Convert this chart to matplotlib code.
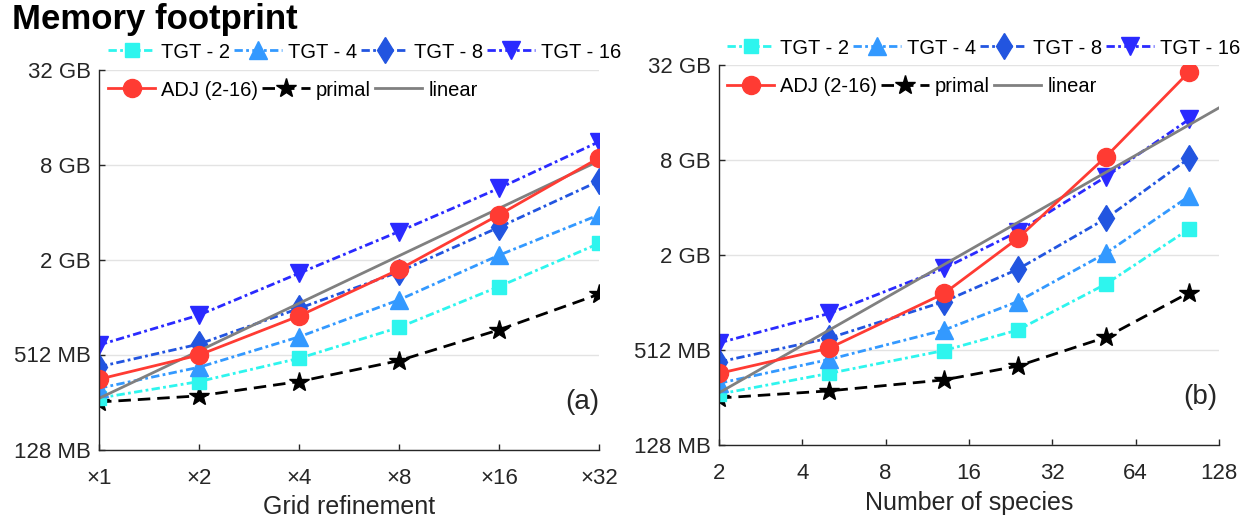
import matplotlib
matplotlib.use("Agg")
import matplotlib.pyplot as plt
from matplotlib.lines import Line2D

plt.rcParams['font.family'] = ['Liberation Sans', 'DejaVu Sans']

# ---- data (memory in MB) ----
refine = [1, 2, 4, 8, 16, 32]
refine_labels = ["×1", "×2", "×4", "×8", "×16", "×32"]
species = [2, 5, 13, 24, 50, 100]
species_ticks = [2, 4, 8, 16, 32, 64, 128]

# (a) grid refinement
a_tgt2 = [271, 345, 484, 760, 1380, 2590]
a_tgt4 = [313, 425, 662, 1136, 2180, 3930]
a_tgt8 = [428, 596, 1003, 1710, 3280, 6430]
a_tgt16 = [588, 910, 1675, 3080, 5790, 11420]
a_adj = [357, 508, 898, 1770, 3930, 9020]
a_primal = [256, 280, 345, 468, 734, 1235]
a_linear = [270, 540, 1080, 2160, 4320, 8640]

# (b) number of species
b_tgt2 = [269, 364, 508, 685, 1342, 2998]
b_tgt4 = [315, 446, 685, 1038, 2105, 4840]
b_tgt8 = [430, 609, 1038, 1663, 3490, 8420]
b_tgt16 = [568, 873, 1686, 2876, 6425, 14860]
b_adj = [364, 526, 1168, 2610, 8600, 29720]
b_primal = [254, 282, 331, 405, 617, 1184]
b_linear_x = [2, 128]
b_linear = [274, 17540]

mem_ticks = [128, 512, 2048, 8192, 32768]
mem_labels = ["128 MB", "512 MB", "2 GB", "8 GB", "32 GB"]

# ---- styles ----
dashdot = (0, (3, 1.2, 1, 1.2))
dashed = (0, (4.5, 2.5))
styles = {
    "TGT - 2": dict(color="#2ef5ee", ls=dashdot, marker="s", ms=10),
    "TGT - 4": dict(color="#3399ff", ls=dashdot, marker="^", ms=13),
    "TGT - 8": dict(color="#2255e0", ls=dashdot, marker="d", ms=13),
    "TGT - 16": dict(color="#2a2aff", ls=dashdot, marker="v", ms=13),
    "ADJ (2-16)": dict(color="#ff3b33", ls="-", marker="o", ms=13),
    "primal": dict(color="black", ls=dashed, marker="*", ms=15),
    "linear": dict(color="#808080", ls="-", marker=None, ms=0),
}
lw = 2
W, H = 1244, 520
tc = "#262626"

fig = plt.figure(figsize=(W / 100, H / 100), dpi=100)
ax1 = fig.add_axes([99 / W, 1 - 449.5 / H, 500 / W, 380 / H])
ax2 = fig.add_axes([719 / W, 1 - 445 / H, 500 / W, 380 / H])


def draw(ax, x, tgt2, tgt4, tgt8, tgt16, adj, primal, lin_x, lin):
    series = [("primal", x, primal), ("TGT - 2", x, tgt2), ("TGT - 4", x, tgt4),
              ("TGT - 8", x, tgt8), ("TGT - 16", x, tgt16), ("linear", lin_x, lin),
              ("ADJ (2-16)", x, adj)]
    for name, xs, ys in series:
        s = styles[name]
        ax.plot(xs, ys, color=s["color"], ls=s["ls"], lw=lw, marker=s["marker"],
                ms=s["ms"], mec=s["color"], mfc=s["color"], label=name)
    ax.set_xscale("log", base=2)
    ax.set_yscale("log", base=2)
    ax.set_ylim(128, 32768)
    ax.set_yticks(mem_ticks)
    ax.set_yticklabels(mem_labels)
    ax.minorticks_off()
    ax.yaxis.grid(True, color="#e3e3e3", lw=1)
    ax.set_axisbelow(True)
    for side in ["top", "right"]:
        ax.spines[side].set_visible(False)
    for side in ["left", "bottom"]:
        ax.spines[side].set_color(tc)
        ax.spines[side].set_linewidth(1)
    ax.tick_params(axis="both", direction="in", length=4, width=1, color=tc,
                   labelcolor=tc, labelsize=16)
    ax.tick_params(axis="x", pad=13)
    ax.tick_params(axis="y", pad=6)


draw(ax1, refine, a_tgt2, a_tgt4, a_tgt8, a_tgt16, a_adj, a_primal, refine, a_linear)
ax1.set_xlim(1, 32)
ax1.set_xticks(refine)
ax1.set_xticklabels(refine_labels)
ax1.set_xlabel("Grid refinement", fontsize=18, color=tc, labelpad=5)
ax1.text(0.966, 0.125, "(a)", transform=ax1.transAxes, fontsize=20,
         ha="center", va="center", color=tc)

draw(ax2, species, b_tgt2, b_tgt4, b_tgt8, b_tgt16, b_adj, b_primal, b_linear_x, b_linear)
ax2.set_xlim(2, 128)
ax2.set_xticks(species_ticks)
ax2.set_xticklabels([str(v) for v in species_ticks])
ax2.set_xlabel("Number of species", fontsize=18, color=tc, labelpad=5)
ax2.text(0.962, 0.127, "(b)", transform=ax2.transAxes, fontsize=20,
         ha="center", va="center", color=tc)


def handle(name):
    s = styles[name]
    return Line2D([0], [0], color=s["color"], ls=s["ls"], lw=lw, marker=s["marker"],
                  ms=s["ms"], mec=s["color"], mfc=s["color"], label=name)


leg_kw = dict(loc="center left", bbox_transform=fig.transFigure, frameon=False,
              borderaxespad=0, borderpad=0, handlelength=2.35, handletextpad=0.3,
              columnspacing=0.2, fontsize=14.5, labelcolor="black")
row1 = ["TGT - 2", "TGT - 4", "TGT - 8", "TGT - 16"]
row2 = ["ADJ (2-16)", "primal", "linear"]
for ax, x0, y1, y2 in [(ax1, 108, 52, 90), (ax2, 727, 48, 87)]:
    l1 = ax.legend(handles=[handle(n) for n in row1], ncol=4,
                   bbox_to_anchor=(x0 / W, 1 - y1 / H), **leg_kw)
    ax.add_artist(l1)
    ax.legend(handles=[handle(n) for n in row2], ncol=3,
              bbox_to_anchor=(x0 / W, 1 - y2 / H), **leg_kw)

fig.text(12 / W, 1 - 29 / H, "Memory footprint", fontsize=25, fontweight="bold",
         ha="left", va="baseline")

fig.savefig("out.png", dpi=100)
